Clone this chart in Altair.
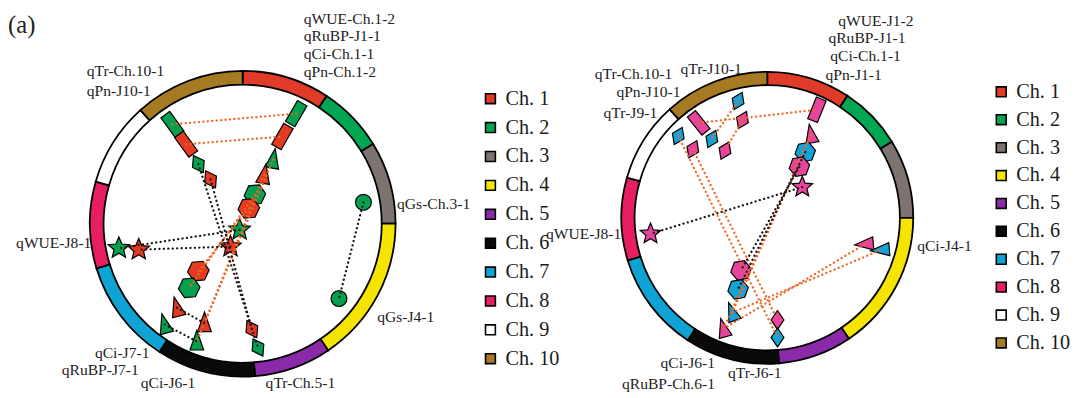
import math
import pandas as pd
import altair as alt

# ---------------- data ----------------
# chromosome ring: span of each chromosome in degrees, clockwise from 12 o'clock
chrom_names = ["Ch. 1", "Ch. 2", "Ch. 3", "Ch. 4", "Ch. 5",
               "Ch. 6", "Ch. 7", "Ch. 8", "Ch. 9", "Ch. 10"]
chrom_span_deg = [33.3, 25.3, 31.4, 56.0, 29.4, 37.6, 40.0, 33.0, 32.0, 42.0]
chrom_colors = ["#e03a28", "#00a651", "#7d7472", "#f5e400", "#8b2aa8",
                "#0a0a0a", "#0fa3d4", "#e81e63", "#ffffff", "#a67a22"]

# left panel QTL markers (unit-circle coordinates, radius 1 = outer ring)
L_shape = ["rect", "rect", "diamond", "diamond", "rect", "rect", "triangle", "triangle",
           "hexagon", "hexagon", "star", "star", "star", "star", "hexagon", "hexagon",
           "triangle", "triangle", "triangle", "triangle", "diamond", "diamond",
           "circle", "circle"]
L_env = ["g", "r", "g", "r", "g", "r", "g", "r", "g", "r", "g", "r", "g", "r",
         "r", "g", "r", "g", "r", "g", "r", "g", "g", "g"]
L_u = [-0.46, -0.37, -0.29, -0.21, 0.35, 0.26, 0.20, 0.14, 0.08, 0.04, -0.02, -0.08,
       -0.81, -0.68, -0.29, -0.35, -0.43, -0.51, -0.25, -0.30, 0.06, 0.10, 0.79, 0.63]
L_v = [0.65, 0.52, 0.39, 0.29, 0.72, 0.57, 0.42, 0.32, 0.19, 0.10, -0.04, -0.15,
       -0.16, -0.17, -0.31, -0.42, -0.55, -0.66, -0.65, -0.77, -0.69, -0.81, 0.14, -0.49]
L_tilt = [324, 324, 330, 330, 30, 30, 10, 10, 25, 25, 0, 0, 0, 0, 25, 25,
          345, 345, 0, 0, 330, 330, 0, 0]
L_orange = [(0, 4), (1, 5), (6, 19), (7, 18), (8, 15), (9, 14)]
L_black = [(2, 21), (3, 20), (10, 12), (11, 13), (16, 18), (17, 19), (22, 23)]

# right panel QTL markers
R_shape = ["diamond", "diamond", "rect", "diamond", "diamond", "diamond", "diamond",
           "rect", "triangle", "hexagon", "hexagon", "star", "star", "hexagon",
           "hexagon", "triangle", "triangle", "diamond", "diamond", "triangle", "triangle"]
R_env = ["c", "p", "p", "c", "p", "c", "p", "p", "p", "c", "p", "p", "p", "p",
         "c", "c", "p", "p", "c", "p", "c"]
R_u = [-0.20, -0.17, -0.47, -0.38, -0.29, -0.61, -0.51, 0.34, 0.30, 0.26, 0.22,
       0.24, -0.80, -0.18, -0.20, -0.24, -0.30, 0.07, 0.07, 0.67, 0.78]
R_v = [0.80, 0.67, 0.65, 0.54, 0.46, 0.56, 0.47, 0.74, 0.57, 0.45, 0.35,
       0.21, -0.11, -0.36, -0.49, -0.65, -0.76, -0.70, -0.82, -0.18, -0.22]
R_tilt = [25, 25, 321, 25, 25, 25, 25, 22, 350, 20, 20, 0, 0, 20, 20,
          340, 345, 0, 0, 265, 265]
R_orange = [(2, 7), (0, 3), (1, 4), (5, 18), (6, 17), (8, 16), (8, 15), (15, 20), (16, 19)]
R_black = [(11, 12), (10, 13), (9, 14)]

# labels
L_lab = ["qWUE-Ch.1-2", "qRuBP-J1-1", "qCi-Ch.1-1", "qPn-Ch.1-2", "qTr-Ch.10-1",
         "qPn-J10-1", "qGs-Ch.3-1", "qGs-J4-1", "qWUE-J8-1", "qCi-J7-1",
         "qRuBP-J7-1", "qCi-J6-1", "qTr-Ch.5-1"]
L_lab_u = [0.40, 0.40, 0.40, 0.40, -1.02, -1.02, 1.01, 0.88, -0.99, -0.61, -0.68, -0.31, 0.15]
L_lab_v = [1.34, 1.225, 1.11, 0.995, 1.00, 0.87, 0.13, -0.61, -0.13, -0.845, -0.955, -1.04, -1.04]
L_lab_side = ["left"] * 8 + ["right"] * 4 + ["left"]

R_lab = ["qWUE-J1-2", "qRuBP-J1-1", "qCi-Ch.1-1", "qPn-J1-1", "qTr-Ch.10-1",
         "qTr-J10-1", "qPn-J10-1", "qTr-J9-1", "qWUE-J8-1", "qCi-J4-1",
         "qCi-J6-1", "qRuBP-Ch.6-1", "qTr-J6-1"]
R_lab_u = [0.486, 0.419, 0.432, 0.399, -1.182, -0.595, -1.034, -1.122, -1.0, 1.027,
           -0.358, -0.358, -0.27]
R_lab_v = [1.35, 1.232, 1.108, 0.98, 0.986, 1.02, 0.858, 0.716, -0.115, -0.196,
           -0.993, -1.142, -1.061]
R_lab_side = ["left"] * 8 + ["right", "left", "right", "right", "left"]

panel_tag = "(a)"

# ---------------- layout / style ----------------
W, H = 1063, 382
PANEL = {
    "L": dict(cx=238, cy=214, r_out=155, r_in=141, k=1.0),
    "R": dict(cx=770, cy=208, r_out=148, r_in=134.5, k=0.92),
}
ENV_COLOR = {"r": "#e33a24", "g": "#05a04f", "p": "#e6459b", "c": "#15a2d4"}


def star_path(n=5, inner=0.45):
    pts = []
    for i in range(2 * n):
        a = -math.pi / 2 + i * math.pi / n
        r = 1.0 if i % 2 == 0 else inner
        pts.append(f"{r * math.cos(a):.3f},{r * math.sin(a):.3f}")
    return "M" + "L".join(pts) + "Z"


SHAPE = {
    "rect": ("M-0.45,-1L0.45,-1L0.45,1L-0.45,1Z", 600),
    "diamond": ("M0,-1L0.68,0L0,1L-0.68,0Z", 400),
    "triangle": ("M0,-1L0.62,0.78L-0.62,0.78Z", 500),
    "hexagon": ("M0,-1L0.866,-0.5L0.866,0.5L0,1L-0.866,0.5L-0.866,-0.5Z", 480),
    "star": (star_path(), 520),
    "circle": ("circle", 260),
}


def ring_df(p):
    P = PANEL[p]
    rows, acc = [], 0.0
    for name, span in zip(chrom_names, chrom_span_deg):
        rows.append(dict(chrom=name, t0=math.radians(acc), t1=math.radians(acc + span),
                         cx=P["cx"], cy=P["cy"]))
        acc += span
    return pd.DataFrame(rows)


def marker_df(p, shapes, env, us, vs, tilt):
    P = PANEL[p]
    rows = []
    for s, e, u, v, t in zip(shapes, env, us, vs, tilt):
        path, size = SHAPE[s]
        rows.append(dict(px=P["cx"] + u * P["r_out"], py=P["cy"] - v * P["r_out"],
                         path=path, size=size * P["k"], fill=ENV_COLOR[e], angle=t))
    return pd.DataFrame(rows)


def line_df(mk, orange, black):
    rows = []
    for pairs, col in ((orange, "#f26522"), (black, "#151515")):
        for a, b in pairs:
            rows.append(dict(x=mk.px[a], y=mk.py[a], x2=mk.px[b], y2=mk.py[b], col=col))
    return pd.DataFrame(rows)


def label_df(p, texts, us, vs, sides):
    P = PANEL[p]
    return pd.DataFrame(dict(text=texts,
                             px=[P["cx"] + u * P["r_out"] for u in us],
                             py=[P["cy"] - v * P["r_out"] for v in vs],
                             side=sides))


mkL = marker_df("L", L_shape, L_env, L_u, L_v, L_tilt)
mkR = marker_df("R", R_shape, R_env, R_u, R_v, R_tilt)
markers = pd.concat([mkL, mkR], ignore_index=True)
lines = pd.concat([line_df(mkL, L_orange, L_black), line_df(mkR, R_orange, R_black)],
                  ignore_index=True)
labels = pd.concat([label_df("L", L_lab, L_lab_u, L_lab_v, L_lab_side),
                    label_df("R", R_lab, R_lab_u, R_lab_v, R_lab_side)], ignore_index=True)
tag = label_df("L", [panel_tag], [-1.535], [1.30], ["left"])

xs = alt.Scale(domain=[0, W], nice=False, zero=False)
ys = alt.Scale(domain=[0, H], reverse=True, nice=False, zero=False)
FONT = "Liberation Serif"


def ring(p, lx, ly, rowpad):
    P = PANEL[p]
    return alt.Chart(ring_df(p)).mark_arc(stroke="black", strokeWidth=1.8).encode(
        x=alt.X("cx:Q", scale=xs, axis=None),
        y=alt.Y("cy:Q", scale=ys, axis=None),
        theta=alt.Theta("t0:Q", scale=None, stack=None),
        theta2="t1:Q",
        radius=alt.value(P["r_out"]),
        radius2=alt.value(P["r_in"]),
        fill=alt.Fill("chrom:N",
                      scale=alt.Scale(domain=chrom_names, range=chrom_colors),
                      legend=alt.Legend(title=None, orient="none", legendX=lx, legendY=ly,
                                        symbolType="square", symbolSize=100,
                                        symbolStrokeColor="black", symbolStrokeWidth=1.6,
                                        labelFont=FONT, labelFontSize=20.5,
                                        labelColor="#1a1a1a", rowPadding=rowpad,
                                        padding=0, labelOffset=5)),
    )


ringL = ring("L", 479, 77, 8.3)
ringR = ring("R", 997, 70, 7.3)

pts = alt.Chart(markers).mark_point(filled=True, stroke="black", strokeWidth=1.2,
                                    opacity=1).encode(
    x=alt.X("px:Q", scale=xs, axis=None),
    y=alt.Y("py:Q", scale=ys, axis=None),
    shape=alt.Shape("path:N", scale=None),
    size=alt.Size("size:Q", scale=None),
    fill=alt.Fill("fill:N", scale=None),
    angle=alt.Angle("angle:Q", scale=None),
)

links = alt.Chart(lines).mark_rule(strokeWidth=2.3, strokeDash=[0.1, 4.4],
                                    strokeCap="round").encode(
    x=alt.X("x:Q", scale=xs, axis=None),
    y=alt.Y("y:Q", scale=ys, axis=None),
    x2="x2:Q", y2="y2:Q",
    stroke=alt.Stroke("col:N", scale=None),
)


def text_layer(df, align, size):
    return alt.Chart(df).transform_filter(alt.datum.side == align).mark_text(
        align=align, baseline="middle", font=FONT, fontSize=size, color="#222222"
    ).encode(
        x=alt.X("px:Q", scale=xs, axis=None),
        y=alt.Y("py:Q", scale=ys, axis=None),
        text="text:N",
    )


chart = alt.layer(
    ringL, ringR, pts, links,
    text_layer(labels, "left", 15.8), text_layer(labels, "right", 15.8),
    text_layer(tag, "left", 25),
).resolve_scale(fill="independent").properties(
    width=W, height=H, padding=0, background="white"
).configure_view(stroke=None)

chart.save("out.html", embed_options={"renderer": "svg", "actions": False})
